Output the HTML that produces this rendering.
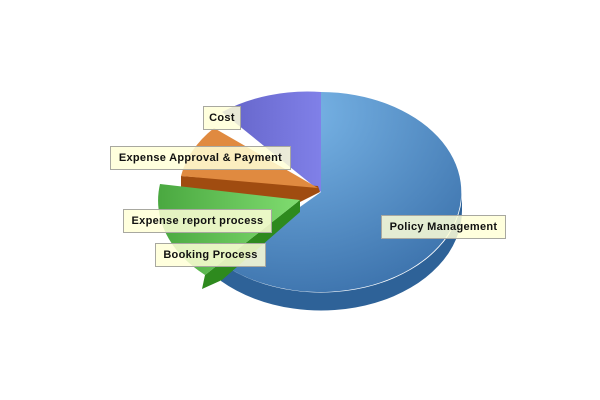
<!DOCTYPE html>
<html><head><meta charset="utf-8"><style>
body{margin:0;width:600px;height:400px;background:#fff;overflow:hidden;position:relative;font-family:"Liberation Sans",sans-serif}
.l{position:absolute;background:rgba(255,255,215,0.85);border:1px solid #a8a8a0;font-size:11px;font-weight:bold;color:#111;line-height:22px;text-align:center;white-space:nowrap;box-sizing:border-box;height:24px;letter-spacing:0.3px}
</style></head><body>
<svg width="600" height="400" style="position:absolute;left:0;top:0">
<defs>
<radialGradient id="bl" cx="0.3" cy="0.1" r="1"><stop offset="0" stop-color="#7ab6e8"/><stop offset="1" stop-color="#3a70aa"/></radialGradient>
<linearGradient id="pu" x1="0" y1="0" x2="1" y2="0"><stop offset="0" stop-color="#6464c8"/><stop offset="1" stop-color="#8080e8"/></linearGradient>
<linearGradient id="gr" x1="0" y1="0" x2="1" y2="0"><stop offset="0" stop-color="#4aa840"/><stop offset="1" stop-color="#80dc70"/></linearGradient>
</defs>
<path d="M462,192 A141,100 0 0,1 221,263 L221,281 A141,100 0 0,0 462,210 Z" fill="#2e6298"/>
<path d="M321,192 L321,92 A141,100 0 1,1 221,263 Z" fill="url(#bl)"/>
<path d="M321,192 L222,112 A141,100 0 0,1 321,92 Z" fill="url(#pu)"/>
<path d="M181,176 L181,190 L300,202 L320,192 L318,186 Z" fill="#a04c10"/>
<path d="M318,188 L181,176 A141,100 0 0,1 214,128 Z" fill="#e08a40"/>
<path d="M205,275 L202,289 L222,280 L300,212 L300,200 Z" fill="#2e8a1e"/>
<path d="M300,200 L160,184 A141,100 0 0,0 205,275 Z" fill="url(#gr)"/>
</svg>
<div class="l" style="left:203px;top:106px;width:38px">Cost</div>
<div class="l" style="left:110px;top:146px;width:181px">Expense Approval &amp; Payment</div>
<div class="l" style="left:123px;top:209px;width:149px">Expense report process</div>
<div class="l" style="left:155px;top:243px;width:111px">Booking Process</div>
<div class="l" style="left:381px;top:215px;width:125px">Policy Management</div>
</body></html>
